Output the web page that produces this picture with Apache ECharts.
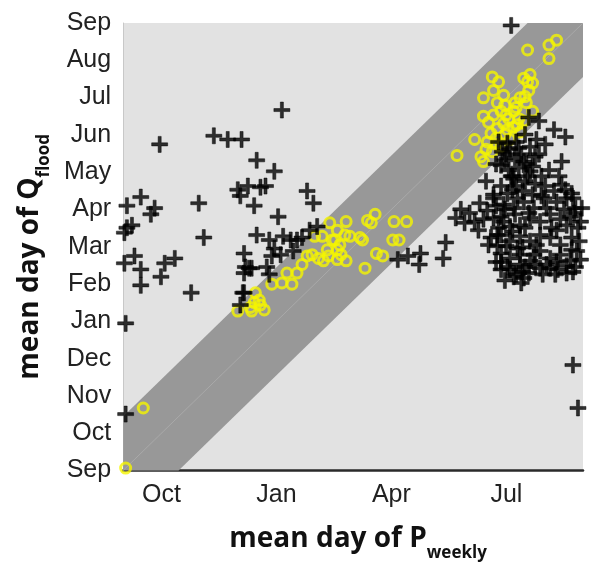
<!DOCTYPE html>
<html>
<head>
<meta charset="utf-8">
<script src="https://cdn.jsdelivr.net/npm/echarts@6/dist/echarts.min.js"></script>
<style>
  html, body { margin: 0; padding: 0; background: #fff; }
  #chart { width: 598px; height: 567px; }
</style>
</head>
<body>
<div id="chart"></div>
<script>
// day of water year, counted from 1 Sep (0..365)
const monthLabels = ['Sep', 'Oct', 'Nov', 'Dec', 'Jan', 'Feb', 'Mar', 'Apr', 'May', 'Jun', 'Jul', 'Aug', 'Sep'];
const yearDays = 365;
const bandHalfWidth = 44; // days either side of the 1:1 line

// black crosses: mean day of P_weekly / mean day of Q_flood
const crossP = [
  29, 72, 83, 94, 106, 14, 3, 25, 22, 60, 91, 99, 109, 93, 104, 7, 3, 1, 64, 106,
  9, 1, 14, 14, 41, 33, 30, 54, 96, 100, 96, 96, 93, 2, 2, 126, 120, 113, 146, 151,
  123, 116, 127, 133, 138, 142, 148, 154, 135, 118, 125, 120, 97, 102, 114, 116, 95, 264, 256, 254,
  218, 226, 236, 235, 308, 357, 361,
  330, 342, 351, 319, 328, 301, 307, 314, 323, 335, 303, 311, 318, 327, 348, 306, 314, 323, 332, 288,
  310, 319, 327, 346, 348, 351, 294, 317, 325, 356, 332, 357,
  268, 271, 279, 286, 294, 302, 310, 318, 326, 334, 344, 352, 359, 294, 302, 307, 315, 323, 331, 339,
  347, 355, 363, 292, 300, 307, 315, 323, 331, 339, 347, 356, 361, 300, 307, 315, 323, 331, 339, 347,
  355, 360, 305, 322, 336, 352, 359, 313, 328, 297, 339, 357, 307,
  322, 363, 305, 300, 309, 303, 311, 298, 319, 290, 315, 300, 331,
  298, 312, 304, 316, 296, 320, 308, 300, 312, 321, 305, 296, 313, 322, 300, 309, 317, 304, 296, 312,
  319, 326, 303, 316, 309, 325, 330, 338, 335, 342,
  275, 282, 289, 283, 297, 344, 352, 358, 364, 340, 350, 336, 362, 356, 344, 333, 317, 327, 352, 343,
  310, 318, 345, 300
];
const crossQ = [
  266, 273, 270, 270, 253, 223, 216, 214, 209, 218, 229, 232, 231, 224, 216, 200, 198, 194, 190, 192,
  175, 169, 164, 151, 173, 169, 158, 145, 177, 165, 161, 145, 135, 120, 46, 294, 244, 232, 228, 218,
  207, 188, 191, 188, 188, 190, 196, 199, 179, 175, 176, 181, 166, 165, 166, 160, 145, 206, 186, 173,
  172, 175, 177, 168, 363, 86, 51,
  285, 278, 272, 274, 270, 260, 262, 263, 264, 266, 253, 255, 252, 256, 252, 245, 247, 244, 240, 236,
  238, 236, 234, 240, 233, 229, 225, 228, 225, 226, 224, 222,
  213, 202, 203, 205, 222, 217, 214, 219, 214, 222, 219, 222, 214, 206, 203, 199, 200, 206, 203, 209,
  205, 207, 203, 190, 192, 187, 191, 187, 192, 190, 184, 190, 198, 177, 173, 176, 171, 179, 173, 176,
  171, 179, 166, 161, 168, 161, 166, 181, 184, 183, 165, 162, 164,
  288, 172, 267, 249, 229, 213, 209, 198, 198, 184, 168, 164, 165,
  268, 268, 258, 258, 250, 250, 240, 232, 232, 240, 226, 216, 222, 210, 207, 195, 182, 183, 170, 160,
  166, 176, 155, 153, 240, 248, 258, 245, 232, 228,
  210, 196, 212, 218, 192, 196, 200, 210, 214, 198, 213, 214, 187, 180, 170, 160, 162, 168, 167, 160,
  158, 157, 164, 170
];

// yellow circles
const ringP = [
  2, 16, 91, 105, 104, 109, 102, 112, 108, 101, 118, 126, 134, 138, 142, 146, 150, 155, 159, 163,
  170, 152, 158, 164, 170, 168, 177, 176, 180, 188, 170, 173, 177, 200, 194, 197, 215, 225, 214, 219,
  201, 206, 192, 190, 130, 166, 172, 162,
  344, 338, 338, 321, 293, 298, 286, 294, 302, 303, 323, 321, 325, 318, 322, 315, 319, 286, 294, 300,
  311, 310, 306, 314, 302, 297, 292, 289, 279, 265, 284, 286, 296, 305, 313, 325, 315, 307, 300, 293,
  288, 296, 303, 310, 318, 290, 304, 312, 297, 320
];
const ringQ = [
  2, 51, 130, 145, 137, 135, 130, 131, 139, 133, 152, 153, 152, 161, 168, 175, 176, 173, 171, 175,
  172, 191, 191, 202, 196, 188, 203, 192, 191, 190, 180, 176, 171, 209, 204, 202, 203, 203, 188, 188,
  177, 175, 165, 188, 161, 188, 184, 180,
  351, 347, 336, 343, 321, 317, 304, 310, 306, 298, 323, 317, 316, 320, 310, 304, 305, 289, 290, 293,
  300, 293, 287, 287, 283, 279, 275, 268, 270, 257, 256, 252, 271, 278, 282, 293, 276, 270, 264, 260,
  262, 266, 274, 280, 285, 284, 290, 296, 300, 300
];

const bandPoly = [
  [0, 0], [0, bandHalfWidth], [yearDays - bandHalfWidth, yearDays],
  [yearDays, yearDays], [yearDays, yearDays - bandHalfWidth], [bandHalfWidth, 0]
];

const myChart = echarts.init(document.getElementById('chart'));
const monthStep = yearDays / 12;
const labelFont = '"Liberation Sans", Arial, sans-serif';
const titleFont = '"Open Sans", sans-serif';

const option = {
  animation: false,
  grid: {
    left: 120, right: 15, top: 23, bottom: 96,
    show: true, backgroundColor: '#e2e2e2', borderWidth: 0
  },
  xAxis: {
    type: 'value', min: 0, max: yearDays, interval: monthStep,
    axisLine: { lineStyle: { color: '#2a2a2a', width: 2.5 } },
    axisTick: { show: false },
    splitLine: { show: false },
    axisLabel: {
      margin: 12, fontSize: 25, color: '#222', fontFamily: labelFont,
      formatter: v => {
        const i = Math.round(v / monthStep);
        return i % 3 === 1 ? monthLabels[i] : '';
      }
    },
    name: '{a|mean day of P}{b|weekly}',
    nameLocation: 'middle',
    nameGap: 52,
    nameTextStyle: {
      rich: {
        a: { fontFamily: titleFont, fontWeight: 'bold', fontSize: 28, color: '#111', lineHeight: 34, padding: [0, 0, 0, 10] },
        b: { fontFamily: titleFont, fontWeight: 'bold', fontSize: 17, color: '#111', lineHeight: 20, padding: [28, 0, 0, 0] }
      }
    }
  },
  yAxis: {
    type: 'value', min: 0, max: yearDays, interval: monthStep,
    axisLine: { show: true, lineStyle: { color: '#c8c8c8', width: 1 } },
    axisTick: { show: false },
    splitLine: { show: false },
    axisLabel: {
      margin: 12, fontSize: 25, color: '#222', fontFamily: labelFont,
      formatter: v => monthLabels[Math.round(v / monthStep)]
    },
    name: '{a|mean day of Q}{b|flood}',
    nameLocation: 'middle',
    nameGap: 70,
    nameRotate: 90,
    nameTextStyle: {
      rich: {
        a: { fontFamily: titleFont, fontWeight: 'bold', fontSize: 28, color: '#111', lineHeight: 34 },
        b: { fontFamily: titleFont, fontWeight: 'bold', fontSize: 17, color: '#111', lineHeight: 20, padding: [28, 20, 0, 0] }
      }
    }
  },
  series: [
    {
      // +/- band round the 1:1 line
      type: 'custom',
      silent: true,
      z: 1,
      data: [0],
      renderItem: (params, api) => ({
        type: 'polygon',
        shape: { points: bandPoly.map(p => api.coord(p)) },
        style: { fill: '#989898' }
      })
    },
    {
      type: 'line',
      silent: true,
      z: 2,
      symbol: 'none',
      data: [[0, 0], [yearDays, yearDays]],
      lineStyle: { color: '#a9a9a9', width: 1 }
    },
    {
      type: 'scatter',
      z: 3,
      symbol: 'circle',
      symbolSize: 10,
      data: ringP.map((p, i) => [p, ringQ[i]]),
      itemStyle: { color: 'rgba(0,0,0,0)', borderColor: '#f5f500', borderWidth: 3 }
    },
    {
      type: 'scatter',
      z: 4,
      symbol: 'path://M4.05,0H5.95V4.05H10V5.95H5.95V10H4.05V5.95H0V4.05H4.05Z',
      symbolSize: 16,
      data: crossP.map((p, i) => [p, crossQ[i]]),
      itemStyle: { color: '#000', borderColor: '#000', borderWidth: 0.6 }
    }
  ]
};
myChart.setOption(option);
</script>
</body>
</html>
